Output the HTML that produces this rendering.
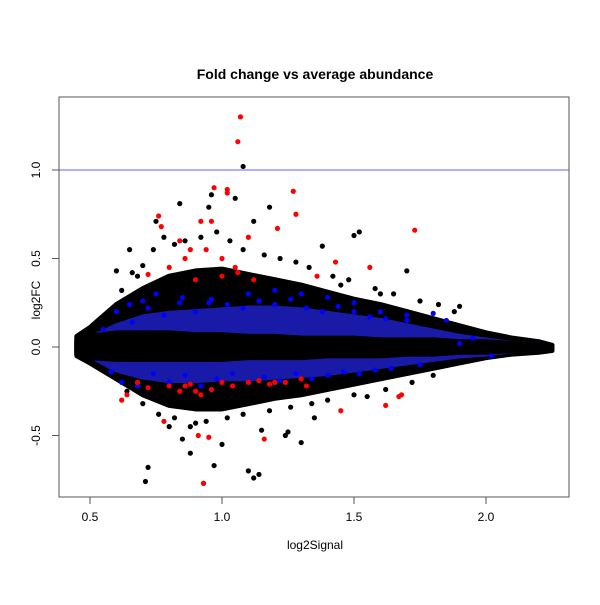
<!DOCTYPE html>
<html><head><meta charset="utf-8"><style>
body{margin:0;background:#fff}
svg text{font-family:"Liberation Sans",sans-serif;fill:#000}
</style></head><body>
<svg width="600" height="600" xmlns="http://www.w3.org/2000/svg">
<rect width="600" height="600" fill="#fff"/>
<text x="315" y="79" font-size="14" font-weight="bold" text-anchor="middle">Fold change vs average abundance</text>
<text x="315" y="549" font-size="12" text-anchor="middle">log2Signal</text>
<text x="40" y="300" font-size="12" text-anchor="middle" transform="rotate(-90 40 300)">log2FC</text>
<g id="plot"></g>
<rect x="59" y="97" width="510" height="400" fill="none" stroke="#555" stroke-width="1"/>
<g id="axes"></g>
</svg>
<script>
const envX=[0.45,0.5,0.6,0.7,0.8,0.9,1.0,1.1,1.2,1.3,1.4,1.5,1.6,1.7,1.8,1.9,2.0,2.1,2.2,2.25];
const outerUp=[0.06,0.11,0.24,0.33,0.4,0.43,0.44,0.41,0.38,0.35,0.31,0.27,0.24,0.2,0.16,0.12,0.08,0.05,0.03,0.01];
const outerLo=[-0.05,-0.09,-0.18,-0.27,-0.33,-0.35,-0.35,-0.32,-0.29,-0.27,-0.24,-0.21,-0.18,-0.15,-0.12,-0.09,-0.06,-0.04,-0.03,-0.02];
const blueUp=[0.03,0.05,0.12,0.17,0.19,0.2,0.21,0.22,0.22,0.21,0.19,0.17,0.15,0.12,0.09,0.06,0.04,0.02,0.01,0.0];
const blueLo=[-0.03,-0.05,-0.13,-0.17,-0.19,-0.19,-0.18,-0.18,-0.17,-0.16,-0.15,-0.13,-0.11,-0.09,-0.07,-0.05,-0.04,-0.02,-0.01,-0.01];
const coreUp=[0.04,0.06,0.08,0.08,0.08,0.07,0.07,0.06,0.06,0.05,0.05,0.05,0.04,0.04,0.04,0.03,0.03,0.02,0.01,0.01];
const coreLo=[-0.04,-0.06,-0.07,-0.07,-0.07,-0.07,-0.07,-0.06,-0.06,-0.06,-0.05,-0.05,-0.05,-0.04,-0.04,-0.03,-0.03,-0.02,-0.01,-0.01];
const blackX=[1.08,0.84,0.96,1.05,1.12,1.18,0.95,0.75,0.65,0.6,1.5,1.52,1.38,1.7,1.3,0.72,0.71,0.93,0.88,1.12,1.14,1.1,0.97,0.85,0.8,1.24,1.25,0.9,1.15,1.0,1.35,1.55,1.9,0.78,0.68,1.45,1.6,
 0.62,0.66,0.7,0.74,0.82,0.86,0.92,0.98,1.03,1.08,1.16,1.22,1.28,1.33,1.42,1.48,1.58,1.65,1.75,1.82,1.88,0.64,0.7,0.76,0.82,0.88,0.94,1.02,1.08,1.18,1.26,1.34,1.4,1.5,1.62,1.72,1.8];
const blackY=[1.02,0.81,0.86,0.84,0.71,0.79,0.79,0.71,0.55,0.43,0.63,0.65,0.57,0.43,-0.54,-0.68,-0.76,-0.77,-0.6,-0.74,-0.72,-0.7,-0.67,-0.52,-0.45,-0.5,-0.48,-0.43,-0.47,-0.55,-0.4,-0.28,0.23,0.62,0.4,0.35,0.3,
 0.32,0.42,0.46,0.55,0.58,0.6,0.62,0.65,0.6,0.55,0.52,0.5,0.48,0.45,0.4,0.38,0.33,0.3,0.26,0.24,0.2,-0.25,-0.32,-0.38,-0.4,-0.45,-0.42,-0.4,-0.38,-0.36,-0.34,-0.32,-0.3,-0.27,-0.24,-0.2,-0.16];
const redX=[1.07,1.06,0.97,1.02,1.02,1.27,0.76,0.77,0.92,0.96,1.28,1.73,0.84,1.21,1.1,0.88,1.43,1.56,1.36,0.78,0.95,0.93,1.16,0.91,1.62,1.67,1.68,1.45,0.62,0.64,1.0,1.05,0.86,0.9,1.2,1.3,
 0.68,0.72,0.8,0.84,0.88,0.92,0.96,1.0,1.04,1.1,1.14,1.18,1.24,1.32,0.8,0.86,0.94,1.0,1.06,1.12,0.72,0.9];
const redY=[1.3,1.16,0.9,0.89,0.87,0.88,0.74,0.68,0.71,0.71,0.75,0.66,0.6,0.67,0.62,0.55,0.48,0.45,0.4,-0.42,-0.51,-0.77,-0.52,-0.5,-0.33,-0.28,-0.27,-0.36,-0.3,-0.27,0.4,0.45,-0.22,-0.25,-0.2,-0.18,
 -0.2,-0.23,-0.22,-0.25,-0.21,-0.27,-0.24,-0.2,-0.22,-0.2,-0.19,-0.21,-0.2,-0.22,0.45,0.5,0.55,0.5,0.42,0.38,0.41,0.38];
const blueX=[0.55,0.6,0.65,0.7,0.75,0.85,0.95,1.1,1.2,1.3,1.4,1.5,1.6,1.7,1.8,1.85,1.95,2.02,1.75,1.9,0.58,
 0.62,0.68,0.74,0.8,0.86,0.92,0.98,1.04,1.1,1.16,1.22,1.28,1.34,1.4,1.46,1.52,1.58,1.64,0.66,0.72,0.78,0.84,0.9,0.96,1.02,1.08,1.14,1.2,1.26,1.32,1.38,1.44,1.5,1.56,1.62,1.7];
const blueY=[0.1,0.2,0.24,0.26,0.3,0.28,0.25,0.3,0.32,0.3,0.28,0.25,0.2,0.18,0.19,0.15,0.05,-0.05,-0.1,0.02,-0.14,
 -0.2,-0.22,-0.15,-0.2,-0.16,-0.22,-0.18,-0.15,-0.2,-0.17,-0.19,-0.15,-0.18,-0.16,-0.14,-0.15,-0.13,-0.12,0.14,0.22,0.18,0.25,0.2,0.27,0.24,0.22,0.26,0.24,0.27,0.22,0.2,0.23,0.2,0.17,0.16,0.15];
const xTicks=[0.5,1.0,1.5,2.0];
const yTicks=[-0.5,0.0,0.5,1.0];
const sx=v=>90+(v-0.5)*264, sy=v=>347-v*177;
const NS='http://www.w3.org/2000/svg';
const plot=document.getElementById('plot'), axes=document.getElementById('axes');
function mk(t,a,p){const e=document.createElementNS(NS,t);for(const k in a)e.setAttribute(k,a[k]);p.appendChild(e);return e;}
function band(up,lo,col,name){
 let d='M'+envX.map((x,i)=>sx(x)+','+sy(up[i])).join('L');
 d+='L'+envX.map((x,i)=>[x,i]).reverse().map(([x,i])=>sx(x)+','+sy(lo[i])).join('L')+'Z';
 const p=mk('path',{d:d,fill:col,stroke:col,'stroke-width':5,'stroke-linejoin':'round'},plot);
 
 
}
band(outerUp,outerLo,'#000','black-cloud');
band(blueUp,blueLo,'#1a1aa8','blue-band');
band(coreUp,coreLo,'#000','black-core');
function pts(X,Y,col,name){X.forEach((x,i)=>{const c=mk('circle',{cx:sx(x),cy:sy(Y[i]),r:2.6,fill:col},plot);
 
 });}
pts(blackX,blackY,'#000','black-point');
pts(blueX,blueY,'#0000ff','blue-point');
pts(redX,redY,'#ff0000','red-point');
const hl=mk('line',{x1:59,x2:569,y1:sy(1),y2:sy(1),stroke:'#8080ff','stroke-width':1.2},plot);


xTicks.forEach(v=>{mk('line',{x1:sx(v),x2:sx(v),y1:497,y2:504,stroke:'#555'},axes);
 const t=mk('text',{x:sx(v),y:521,'font-size':12,'text-anchor':'middle'},axes);t.textContent=v.toFixed(1);
 
 });
yTicks.forEach(v=>{mk('line',{x1:52,x2:59,y1:sy(v),y2:sy(v),stroke:'#555'},axes);
 const t=mk('text',{x:40,y:sy(v),'font-size':12,'text-anchor':'middle',transform:'rotate(-90 40 '+sy(v)+')'},axes);t.textContent=v.toFixed(1);
 
 });
</script>
</body></html>
